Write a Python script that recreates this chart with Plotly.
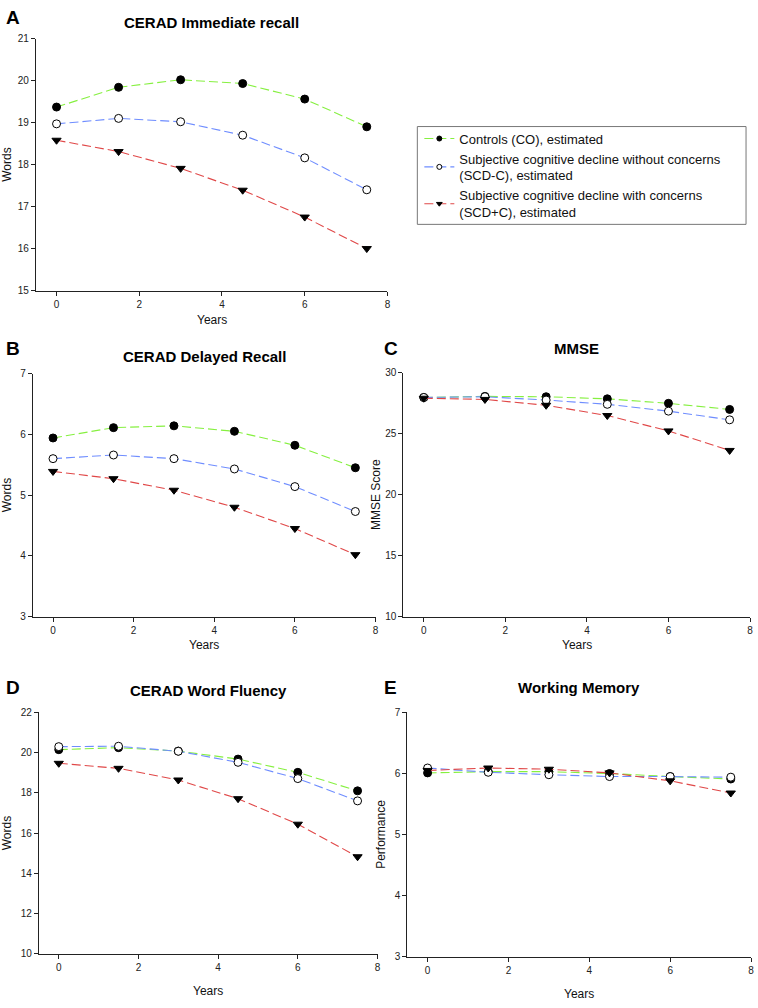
import plotly.graph_objects as go

W, H = 758, 1008

years = [0, 1.5, 3, 4.5, 6, 7.5]
x_ticks = [0, 2, 4, 6, 8]

series_names = [
    "Controls (CO), estimated",
    "Subjective cognitive decline without concerns<br>(SCD-C), estimated",
    "Subjective cognitive decline with concerns<br>(SCD+C), estimated",
]

# Panel A: CERAD Immediate recall
a_co = [19.37, 19.84, 20.02, 19.93, 19.56, 18.90]
a_scdm = [18.97, 19.10, 19.02, 18.70, 18.16, 17.40]
a_scdp = [18.58, 18.31, 17.91, 17.39, 16.75, 16.00]

# Panel B: CERAD Delayed Recall
b_co = [5.94, 6.11, 6.14, 6.05, 5.82, 5.45]
b_scdm = [5.60, 5.66, 5.60, 5.43, 5.14, 4.73]
b_scdp = [5.39, 5.27, 5.08, 4.80, 4.45, 4.02]

# Panel C: MMSE
c_co = [27.96, 28.05, 28.02, 27.85, 27.48, 26.98]
c_scdm = [27.96, 28.02, 27.75, 27.40, 26.84, 26.13]
c_scdp = [27.90, 27.80, 27.32, 26.48, 25.22, 23.62]

# Panel D: CERAD Word Fluency
d_co = [20.15, 20.25, 20.08, 19.68, 19.02, 18.10]
d_scdm = [20.30, 20.32, 20.07, 19.52, 18.71, 17.60]
d_scdp = [19.47, 19.22, 18.64, 17.71, 16.44, 14.82]

# Panel E: Working Memory
e_co = [6.01, 6.03, 6.03, 6.00, 5.95, 5.91]
e_scdm = [6.09, 6.02, 5.98, 5.95, 5.95, 5.94]
e_scdp = [6.05, 6.09, 6.07, 6.01, 5.88, 5.68]

panels = [
    dict(key="A", title="CERAD Immediate recall", ytitle="Words",
         data=[a_co, a_scdm, a_scdp], yrange=[15, 21], ydtick=1,
         px=(36, 389), py=(33, 288), xtitle_y=318, title_y=17, standoff=6),
    dict(key="B", title="CERAD Delayed Recall", ytitle="Words",
         data=[b_co, b_scdm, b_scdp], yrange=[3, 7], ydtick=1,
         px=(33, 377), py=(372, 618), xtitle_y=647, title_y=355, standoff=6),
    dict(key="C", title="MMSE", ytitle="MMSE Score",
         data=[c_co, c_scdm, c_scdp], yrange=[10, 30], ydtick=5,
         px=(405, 753), py=(371, 618), xtitle_y=647, title_y=347, standoff=2),
    dict(key="D", title="CERAD Word Fluency", ytitle="Words",
         data=[d_co, d_scdm, d_scdp], yrange=[10, 22], ydtick=2,
         px=(39, 379), py=(715, 959), xtitle_y=997, title_y=693, standoff=6),
    dict(key="E", title="Working Memory", ytitle="Performance",
         data=[e_co, e_scdm, e_scdp], yrange=[3, 7], ydtick=1,
         px=(409, 754), py=(715, 962), xtitle_y=1000, title_y=690, standoff=6),
]

letter_pos = {"A": (4, 12), "B": (4, 347), "C": (384, 347), "D": (4, 690), "E": (384, 690)}

line_colors = ["#86f040", "#6f8dff", "#e04848"]
marker_symbols = ["circle", "circle", "triangle-down"]
marker_fill = ["black", "white", "black"]
DASH = "9px,4px"


def fx(px):
    return px / W


def fy(py):
    return 1 - py / H


fig = go.Figure()
annotations = []
layout_axes = {}

FONT = "Liberation Sans, Arial, sans-serif"

for i, p in enumerate(panels):
    n = "" if i == 0 else str(i + 1)
    xa, ya = "x" + n, "y" + n
    x0, x1 = p["px"]
    y0, y1 = p["py"]
    for s in range(3):
        fig.add_trace(go.Scatter(
            x=years, y=p["data"][s], xaxis=xa, yaxis=ya,
            mode="lines+markers", name=series_names[s],
            showlegend=False,
            line=dict(color=line_colors[s], width=1.1, dash=DASH),
            marker=dict(symbol=marker_symbols[s], size=8,
                        color=marker_fill[s],
                        line=dict(color="black", width=1)),
        ))
    axis_common = dict(showgrid=False, zeroline=False, showline=True,
                       linecolor="#222", linewidth=1, ticks="outside",
                       ticklen=4, tickcolor="#222", tickwidth=1,
                       tickfont=dict(family=FONT, size=10, color="#222"))
    layout_axes["xaxis" + n] = dict(
        domain=[fx(x0), fx(x1)], anchor=ya, range=[-0.5, 8],
        tickvals=x_ticks, **axis_common)
    layout_axes["yaxis" + n] = dict(
        domain=[fy(y1), fy(y0)], anchor=xa, range=p["yrange"],
        dtick=p["ydtick"], tick0=p["yrange"][0],
        title=dict(text=p["ytitle"], font=dict(family=FONT, size=12, color="#111"),
                   standoff=p["standoff"]),
        **axis_common)
    annotations.append(dict(
        text="<b>" + p["title"] + "</b>", xref="paper", yref="paper",
        x=fx((x0 + x1) / 2), y=fy(p["title_y"]), showarrow=False,
        xanchor="center", yanchor="middle",
        font=dict(family=FONT, size=15, color="black")))
    annotations.append(dict(
        text="Years", xref="paper", yref="paper",
        x=fx((x0 + x1) / 2), y=fy(p["xtitle_y"]), showarrow=False,
        xanchor="center", yanchor="middle",
        font=dict(family=FONT, size=12, color="#111")))
    lx, ly = letter_pos[p["key"]]
    annotations.append(dict(
        text="<b>" + p["key"] + "</b>", xref="paper", yref="paper",
        x=fx(lx), y=fy(ly), showarrow=False,
        xanchor="left", yanchor="middle",
        font=dict(family=FONT, size=19, color="black")))

# legend-only entries with small markers, like the reference key
for s in range(3):
    fig.add_trace(go.Scatter(
        x=[None], y=[None], mode="lines+markers", name=series_names[s],
        showlegend=True,
        line=dict(color=line_colors[s], width=1.1, dash=DASH),
        marker=dict(symbol=marker_symbols[s], size=5, color=marker_fill[s],
                    line=dict(color="black", width=1)),
    ))

fig.update_layout(
    width=W, height=H,
    margin=dict(l=0, r=0, t=0, b=0),
    paper_bgcolor="white", plot_bgcolor="white",
    font=dict(family=FONT),
    annotations=annotations,
    showlegend=True,
    legend=dict(x=fx(421), y=fy(119), xanchor="left", yanchor="top",
                bgcolor="rgba(0,0,0,0)", borderwidth=0,
                font=dict(family=FONT, size=13, color="#111"),
                tracegroupgap=0, itemwidth=30),
    shapes=[dict(type="rect", xref="paper", yref="paper",
                 x0=fx(419), x1=fx(749), y0=fy(221), y1=fy(122),
                 line=dict(color="#777", width=1), fillcolor="rgba(0,0,0,0)")],
    **layout_axes,
)

fig.write_html(
    "out.html",
    config={"displayModeBar": False},
    post_script="document.body.style.margin='0px';document.body.style.overflow='hidden';",
)
